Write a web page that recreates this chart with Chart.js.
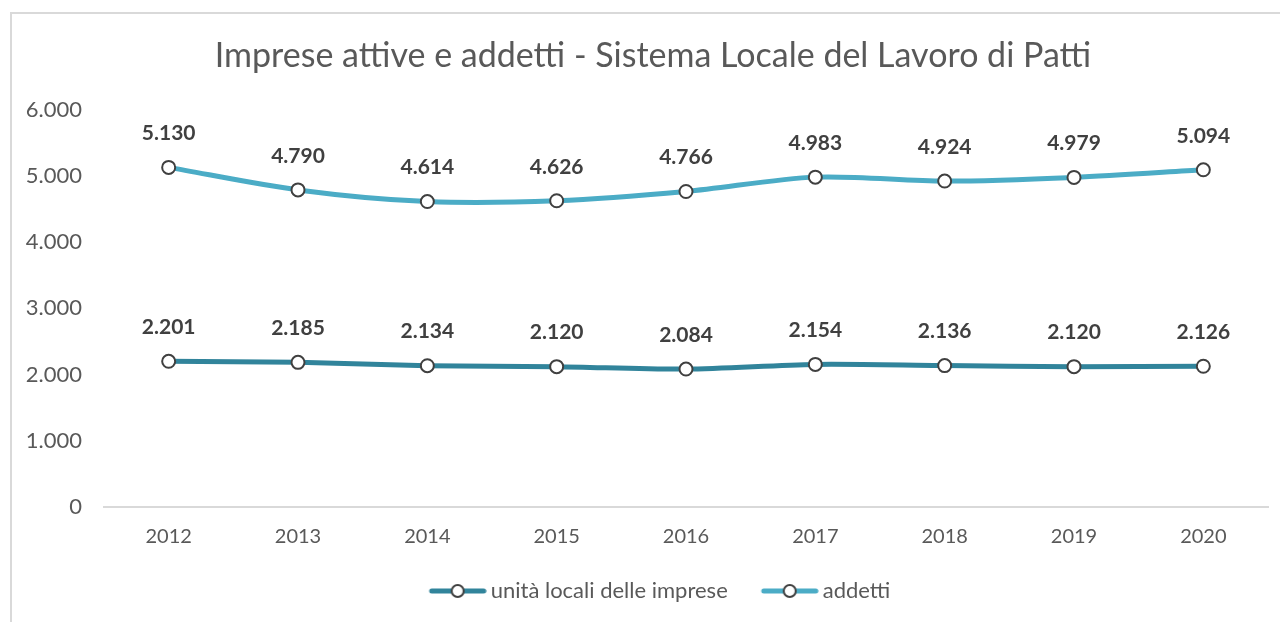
<!DOCTYPE html>
<html>
<head>
<meta charset="utf-8">
<script src="https://cdn.jsdelivr.net/npm/chart.js@4/dist/chart.umd.min.js"></script>
<style>
html,body{margin:0;padding:0;background:#fff;overflow:hidden;}
#wrap{position:absolute;left:0;top:0;width:1280px;height:622px;}
#frame{position:absolute;left:10px;top:12px;width:1300px;height:700px;border:2px solid #d9d9d9;box-sizing:border-box;}
canvas{position:absolute;left:0;top:0;}
</style>
</head>
<body>
<div id="frame"></div>
<div id="wrap"><canvas id="c" width="1280" height="622"></canvas></div>
<script>
const years = ['2012','2013','2014','2015','2016','2017','2018','2019','2020'];
const unitaLocali = [2201, 2185, 2134, 2120, 2084, 2154, 2136, 2120, 2126];
const addetti = [5130, 4790, 4614, 4626, 4766, 4983, 4924, 4979, 5094];
const seriesNames = ['unità locali delle imprese', 'addetti'];
const yTicks = [0, 1000, 2000, 3000, 4000, 5000, 6000];

const FONT = 'Lato, "Open Sans", sans-serif';
function fmt(v){
  const s = String(Math.round(v));
  return s.replace(/\B(?=(\d{3})+(?!\d))/g, '.');
}
function legendIcon(color){
  const c = document.createElement('canvas');
  c.width = 78; c.height = 16;
  const x = c.getContext('2d');
  const o = 20;
  x.strokeStyle = color; x.lineWidth = 5; x.lineCap = 'round';
  x.beginPath(); x.moveTo(o + 3, 8); x.lineTo(o + 55, 8); x.stroke();
  x.beginPath(); x.arc(o + 29, 8, 6, 0, Math.PI*2);
  x.fillStyle = '#fff'; x.fill();
  x.lineWidth = 2; x.strokeStyle = '#404040'; x.stroke();
  return c;
}
const colors = ['#31849B', '#4BACC6'];
const icons = colors.map(legendIcon);

const labelPlugin = {
  id: 'valueLabels',
  afterDatasetsDraw(chart){
    const ctx = chart.ctx;
    ctx.save();
    ctx.font = 'bold 21px ' + FONT;
    ctx.fillStyle = '#404040';
    ctx.textAlign = 'center';
    ctx.textBaseline = 'middle';
    chart.data.datasets.forEach((ds, i) => {
      const meta = chart.getDatasetMeta(i);
      meta.data.forEach((pt, j) => {
        ctx.fillText(fmt(ds.data[j]), pt.x, pt.y - 34);
      });
    });
    ctx.restore();
  }
};

const ptStyle = { pointRadius: 6.5, pointHoverRadius: 6.5, pointBorderWidth: 2, pointBorderColor: '#404040', pointBackgroundColor: '#ffffff' };

new Chart(document.getElementById('c'), {
  type: 'line',
  data: {
    labels: years,
    datasets: [
      Object.assign({ label: seriesNames[0], data: unitaLocali, borderColor: colors[0], backgroundColor: colors[0] }, ptStyle),
      Object.assign({ label: seriesNames[1], data: addetti, borderColor: colors[1], backgroundColor: colors[1] }, ptStyle)
    ]
  },
  options: {
    responsive: false,
    animation: false,
    layout: { padding: { top: 12, left: 0, right: -26, bottom: 10 } },
    elements: {
      line: { borderWidth: 5, tension: 0.3, borderCapStyle: 'round' }
    },
    plugins: {
      title: {
        display: true,
        text: 'Imprese attive e addetti - Sistema Locale del Lavoro di Patti',
        color: '#595959',
        font: { family: FONT, size: 34, weight: 'normal' },
        padding: { top: 24, bottom: 33 }
      },
      legend: {
        position: 'bottom',
        labels: {
          usePointStyle: true,
          pointStyleWidth: 64,
          color: '#595959',
          font: { family: FONT, size: 22 },
          padding: 20,
          generateLabels(chart){
            return chart.data.datasets.map((ds, i) => ({
              text: ds.label, pointStyle: icons[i], fillStyle: colors[i], strokeStyle: colors[i],
              lineWidth: 0, hidden: false, datasetIndex: i, fontColor: '#595959'
            }));
          }
        }
      },
      tooltip: { enabled: false }
    },
    scales: {
      x: {
        offset: true,
        grid: { display: false, drawTicks: false },
        border: { display: true, color: '#d9d9d9', width: 2 },
        ticks: { color: '#595959', font: { family: FONT, size: 20 }, padding: 18 },
        afterFit(s){ s.height = 53; }
      },
      y: {
        min: 0, max: 6000,
        afterBuildTicks(s){ s.ticks = yTicks.map(v => ({ value: v })); },
        grid: { display: false, drawTicks: false },
        border: { display: false },
        ticks: { color: '#595959', font: { family: FONT, size: 22 }, padding: 22, callback: v => fmt(v) },
        afterFit(s){ s.width = 104; }
      },
      yPad: {
        position: 'right',
        min: 0, max: 6000,
        grid: { display: false, drawTicks: false },
        border: { display: false },
        ticks: { display: false },
        afterFit(s){ s.width = 38; }
      }
    }
  },
  plugins: [labelPlugin]
});
</script>
</body>
</html>
